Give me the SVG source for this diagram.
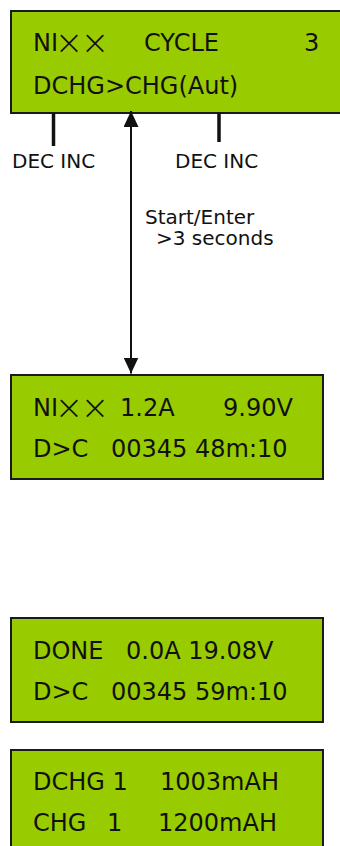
<svg xmlns="http://www.w3.org/2000/svg" width="340" height="846" viewBox="0 0 340 846">
<style>
.lcd{fill:#99cc00;stroke:#1a1a1a;stroke-width:2}
.t{font-family:"DejaVu Sans",Verdana,sans-serif;font-size:24px;fill:#111}
.x{font-size:34px;font-weight:200}
.l{font-family:"DejaVu Sans",Verdana,sans-serif;font-size:20px;fill:#111}
.tick{stroke:#111;stroke-width:3.5}
.conn{stroke:#111;stroke-width:2;fill:none}
</style>
<defs>
<marker id="ah" viewBox="0 0 16 15" refX="16" refY="7.5" markerWidth="16" markerHeight="15" markerUnits="userSpaceOnUse" orient="auto-start-reverse">
<path d="M0,0 L16,7.5 L0,15 Z" fill="#111"/>
</marker>
</defs>
<g id="screen-cycle">
<rect class="lcd" x="11" y="11" width="340" height="102"/>
<text class="t" y="51"><tspan x="33">NI</tspan><tspan class="x" x="54.75" y="54">×</tspan><tspan class="x" x="80.75" y="54">×</tspan><tspan x="144" y="51">CYCLE</tspan><tspan x="304">3</tspan></text>
<text class="t" x="33" y="94">DCHG&gt;CHG(Aut)</text>
</g>
<g id="dec-inc-left">
<line class="tick" x1="53.5" y1="113" x2="53.5" y2="146"/>
<text class="l" x="12" y="168">DEC INC</text>
</g>
<g id="dec-inc-right">
<line class="tick" x1="219" y1="113" x2="219" y2="142"/>
<text class="l" x="175" y="168">DEC INC</text>
</g>
<g id="connectors">
<line class="conn" x1="131" y1="111" x2="131" y2="373.5" marker-start="url(#ah)" marker-end="url(#ah)"/>
<text class="l" x="145" y="224">Start/Enter</text>
<text class="l" x="156" y="245">&gt;3 seconds</text>
</g>
<g id="screen-running">
<rect class="lcd" x="11" y="375" width="312" height="104"/>
<text class="t" y="416"><tspan x="33">NI</tspan><tspan class="x" x="54.75" y="419">×</tspan><tspan class="x" x="80.75" y="419">×</tspan><tspan x="120" y="416">1.2A</tspan><tspan x="223">9.90V</tspan></text>
<text class="t" y="457"><tspan x="33">D&gt;C</tspan><tspan x="111">00345 48m:10</tspan></text>
</g>
<g id="screen-done">
<rect class="lcd" x="11" y="618" width="312" height="104"/>
<text class="t" y="659"><tspan x="33">DONE</tspan><tspan x="126">0.0A 19.08V</tspan></text>
<text class="t" y="700"><tspan x="33">D&gt;C</tspan><tspan x="111">00345 59m:10</tspan></text>
</g>
<g id="screen-capacity">
<rect class="lcd" x="11" y="750" width="312" height="120"/>
<text class="t" y="790"><tspan x="33">DCHG 1</tspan><tspan x="160">1003mAH</tspan></text>
<text class="t" y="831"><tspan x="33">CHG</tspan><tspan x="107">1</tspan><tspan x="158">1200mAH</tspan></text>
</g>
</svg>
